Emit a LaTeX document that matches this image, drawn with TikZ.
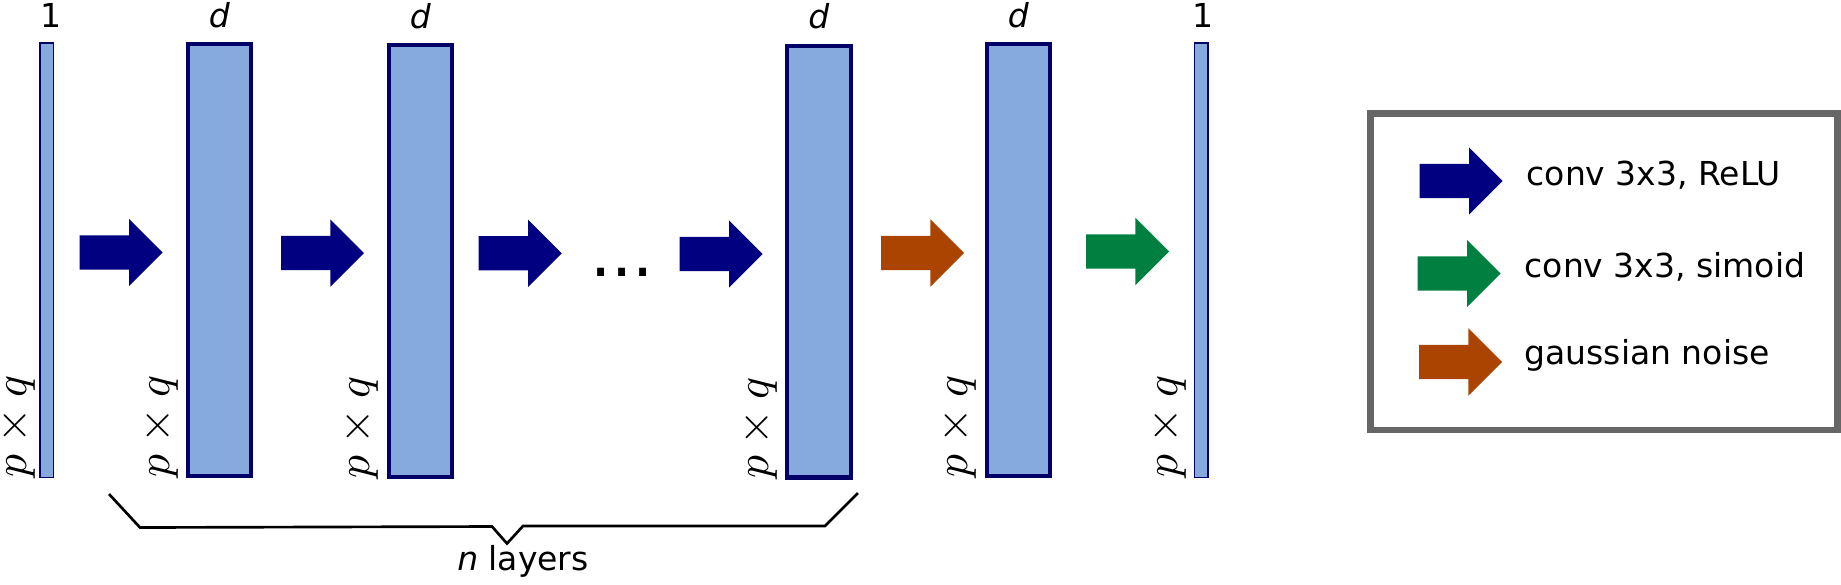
\documentclass[tikz,border=0pt]{standalone}
\usepackage{unicode-math}
\setmainfont{DejaVu Sans}
\usetikzlibrary{shapes.arrows,calc}

\definecolor{barfill}{HTML}{87AADE}
\definecolor{barline}{HTML}{000066}
\definecolor{relublue}{HTML}{000080}
\definecolor{noiseorange}{HTML}{AA4400}
\definecolor{sigmoidgreen}{HTML}{008040}
\definecolor{legendgray}{HTML}{666666}

\tikzset{
    every node/.style={font=\fontsize{9.9}{12}\selectfont},
    layer/.style={draw=barline, fill=barfill, line width=1.25pt, inner sep=0pt,
        minimum width=19.03pt, minimum height=129.55pt},
    thinlayer/.style={layer, line width=0.45pt, minimum width=4.05pt, minimum height=130.35pt},
    blockarrow/.style={single arrow, draw=none, fill=#1, inner xsep=0pt, inner ysep=4.95pt, outer sep=0pt,
        minimum height=24.9pt, minimum width=19.8pt, single arrow head extend=4.95pt, anchor=tip},
    toplabel/.style={inner sep=0pt, anchor=base},
    sidelabel/.style={inner sep=0pt, rotate=90, anchor=south west,
        font=\fontsize{13.7}{16}\selectfont},
    legendtext/.style={inner sep=0pt, anchor=base west},
    bracket/.style={line width=0.8pt}
}

\begin{document}
\begin{tikzpicture}[x=0.3pt,y=0.3pt,yscale=-1]
    \useasboundingbox (0,0) rectangle (1841,584);

    %Layers
    \node[thinlayer] (in) at (46.7,260) {};
    \node[layer] (h1) at (219.5,260) {};
    \node[layer] (h2) at (420.3,261) {};
    \node[layer] (hn) at (819,261.5) {};
    \node[layer] (noisy) at (1018.3,260) {};
    \node[thinlayer] (out) at (1201.3,260) {};

    %Depth labels
    \node[toplabel] (din) at ($(in.north)+(4.5,-15)$) {1};
    \node[toplabel] (dh1) at ($(h1.north)+(0,-15)$) {\textit{d}};
    \node[toplabel] (dh2) at ($(h2.north)+(0,-15)$) {\textit{d}};
    \node[toplabel] (dhn) at ($(hn.north)+(0,-15)$) {\textit{d}};
    \node[toplabel] (dnoisy) at ($(noisy.north)+(0,-15)$) {\textit{d}};
    \node[toplabel] (dout) at ($(out.north)+(1.5,-15)$) {1};

    %Size labels
    \node[sidelabel] (sin) at ($(in.south west)+(-3.5,0)$) {$p\times q$};
    \node[sidelabel] (sh1) at ($(h1.south west)+(-7,0)$) {$p\times q$};
    \node[sidelabel] (sh2) at ($(h2.south west)+(-7,0)$) {$p\times q$};
    \node[sidelabel] (shn) at ($(hn.south west)+(-7,0)$) {$p\times q$};
    \node[sidelabel] (snoisy) at ($(noisy.south west)+(-7,0)$) {$p\times q$};
    \node[sidelabel] (sout) at ($(out.south west)+(-7,0)$) {$p\times q$};

    %Block arrows
    \node[blockarrow=relublue] (conv1) at (162.7,252.5) {};
    \node[blockarrow=relublue] (conv2) at (364,253) {};
    \node[blockarrow=relublue] (conv3) at (561.7,253.3) {};
    \node[blockarrow=relublue] (convn) at (762.7,254) {};
    \node[blockarrow=noiseorange] (noise) at (964,253) {};
    \node[blockarrow=sigmoidgreen] (convout) at (1169,251.5) {};

    \node[inner sep=0pt, anchor=base, font=\fontsize{20}{24}\selectfont] (dots) at (622,276) {...};

    %Brace
    \draw[bracket] (109,494) -- (140,527.5) -- (492,526.5) -- (507,543.5) -- (523,526) -- (825,526) -- (858,493);
    \node[toplabel] (nlayers) at (523,570.5) {\textit{n} layers};

    %Legend
    \node[draw=legendgray, line width=1.95pt, inner sep=0pt, minimum width=140.1pt, minimum height=94.95pt] (legend) at (1604,271.75) {};
    \node[blockarrow=relublue] (keyrelu) at (1502.7,181) {};
    \node[blockarrow=sigmoidgreen] (keysig) at (1500.7,273.5) {};
    \node[blockarrow=noiseorange] (keynoise) at (1502,362) {};
    \node[legendtext] (txtrelu) at (1526,185.5) {conv 3x3, ReLU};
    \node[legendtext] (txtsig) at (1524,277) {conv 3x3, simoid};
    \node[legendtext] (txtnoise) at (1524,364.5) {gaussian noise};

\end{tikzpicture}
\end{document}
